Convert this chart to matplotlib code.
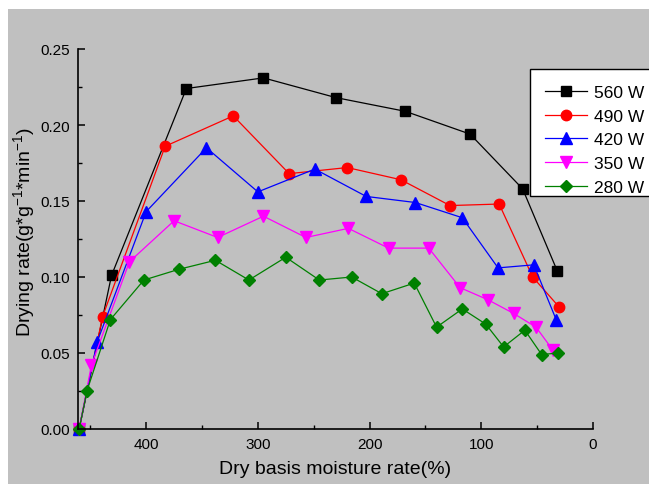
import matplotlib
matplotlib.use("Agg")
import matplotlib.pyplot as plt
from matplotlib.patches import Rectangle
from matplotlib.ticker import MultipleLocator, FormatStrFormatter

plt.rcParams['font.family'] = ['Liberation Sans', 'DejaVu Sans']
plt.rcParams['mathtext.fontset'] = 'custom'
plt.rcParams['mathtext.rm'] = 'Liberation Sans'
plt.rcParams['mathtext.it'] = 'Liberation Sans:italic'
plt.rcParams['mathtext.bf'] = 'Liberation Sans:bold'

# Data
x_560 = [460, 431, 364, 295, 230, 168, 110, 63, 32]
y_560 = [0, 0.101, 0.224, 0.231, 0.218, 0.209, 0.194, 0.158, 0.104]

x_490 = [460, 439, 383, 322, 272, 220, 172, 128, 84, 54, 30]
y_490 = [0, 0.074, 0.186, 0.206, 0.168, 0.172, 0.164, 0.147, 0.148, 0.100, 0.080]

x_420 = [460, 444, 400, 346, 300, 249, 203, 159, 117, 85, 53, 33]
y_420 = [0, 0.057, 0.143, 0.185, 0.156, 0.171, 0.153, 0.149, 0.139, 0.106, 0.108, 0.072]

x_350 = [460, 449, 415, 375, 336, 295, 257, 219, 183, 147, 119, 94, 71, 51, 36]
y_350 = [0, 0.042, 0.110, 0.137, 0.126, 0.140, 0.126, 0.132, 0.119, 0.119, 0.093, 0.085, 0.076, 0.067, 0.052]

x_280 = [460, 453, 432, 402, 371, 338, 308, 275, 245, 216, 189, 160, 140, 117, 96, 80, 61, 46, 31]
y_280 = [0, 0.025, 0.072, 0.098, 0.105, 0.111, 0.098, 0.113, 0.098, 0.100, 0.089, 0.096, 0.067, 0.079, 0.069, 0.054, 0.065, 0.049, 0.050]

labels = ['560 W', '490 W', '420 W', '350 W', '280 W']

W, H = 649, 485
fig = plt.figure(figsize=(W / 100, H / 100), dpi=100, facecolor='white')
bg = Rectangle((8 / W, 0), 1 - 8 / W, 1 - 10 / H, transform=fig.transFigure,
               facecolor='#c0c0c0', edgecolor='none', zorder=-10)
fig.patches.append(bg)

ax = fig.add_axes([78 / W, 1 - 430 / H, (593 - 78) / W, (430 - 50) / H])
ax.set_facecolor('none')
ax.set_zorder(1)

series = [
    (x_560, y_560, 'black', 's', 6.5),
    (x_490, y_490, 'red', 'o', 7.5),
    (x_420, y_420, 'blue', '^', 8),
    (x_350, y_350, 'magenta', 'v', 8),
    (x_280, y_280, 'green', 'D', 6.5),
]
for (xs, ys, c, m, ms), lab in zip(series, labels):
    ax.plot(xs, ys, color=c, marker=m, markersize=ms, linewidth=0.9,
            label=lab, clip_on=False)

ax.set_xlim(461, 0)
ax.set_ylim(0, 0.25)
ax.xaxis.set_major_locator(MultipleLocator(100))
ax.xaxis.set_minor_locator(MultipleLocator(50))
ax.yaxis.set_major_locator(MultipleLocator(0.05))
ax.yaxis.set_minor_locator(MultipleLocator(0.025))
ax.yaxis.set_major_formatter(FormatStrFormatter('%.2f'))

for s in ['top', 'right']:
    ax.spines[s].set_visible(False)
for s in ['left', 'bottom']:
    ax.spines[s].set_linewidth(1.2)

ax.tick_params(which='major', direction='in', length=5, width=1.1, labelsize=11, pad=6, colors='black')
ax.tick_params(which='minor', direction='in', length=3, width=1.0)

ax.set_xlabel('Dry basis moisture rate(%)', fontsize=14)
ax.xaxis.set_label_coords(0.5, -(470 - 430) / 380, transform=ax.transAxes)
ax.xaxis.label.set_va('center')
ax.set_ylabel('Drying rate(g*g$^{-1}$*min$^{-1}$)', fontsize=14)
ax.yaxis.set_label_coords(-(78 - 24) / 515, (430 - 232) / 380)
ax.yaxis.label.set_va('center')

# legend frame (Origin-style box, partly cut by the figure edge)
frame = Rectangle((530 / W, 1 - 197 / H), 200 / W, 127 / H, transform=fig.transFigure,
                  facecolor='white', edgecolor='black', linewidth=1.0,
                  clip_on=False, zorder=4)
ax.add_patch(frame)

leg = ax.legend(loc='upper left', bbox_to_anchor=(545 / W, 1 - 86 / H),
                bbox_transform=fig.transFigure, borderaxespad=0, borderpad=0,
                fontsize=12.5, frameon=False,
                handlelength=2.42, labelspacing=0.49, handletextpad=0.4)
leg.set_zorder(5)

fig.savefig('out.png', dpi=100, facecolor='white')
